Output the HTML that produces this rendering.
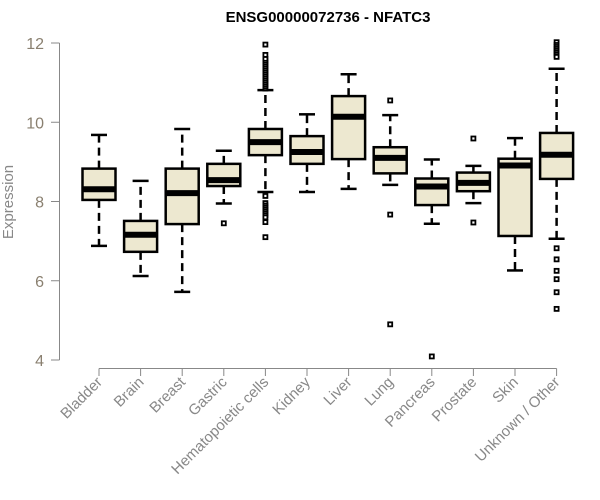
<!DOCTYPE html>
<html><head><meta charset="utf-8"><style>body{margin:0;background:#fff}svg{display:block}</style></head>
<body>
<svg id="chart" width="600" height="500" xmlns="http://www.w3.org/2000/svg" font-family="Liberation Sans, sans-serif">
<text x="328" y="22" text-anchor="middle" font-weight="bold" font-size="15">ENSG00000072736 - NFATC3</text>
<text transform="translate(13,202) rotate(-90)" text-anchor="middle" font-size="15" fill="#888">Expression</text>
<g id="axes"></g><g id="boxes"></g>
</svg>
<script>
const categories=["Bladder","Brain","Breast","Gastric","Hematopoietic cells","Kidney","Liver","Lung","Pancreas","Prostate","Skin","Unknown / Other"];
const whiskerLow=[6.88,6.12,5.72,7.95,8.24,8.24,8.32,8.42,7.44,7.96,6.26,7.06];
const q1=[8.04,6.73,7.43,8.39,9.17,8.95,9.07,8.71,7.91,8.26,7.13,8.57];
const median=[8.31,7.16,8.21,8.54,9.50,9.25,10.14,9.10,8.38,8.47,8.91,9.18];
const q3=[8.83,7.51,8.83,8.95,9.83,9.65,10.66,9.37,8.58,8.73,9.08,9.73];
const whiskerHigh=[9.68,8.52,9.83,9.28,10.81,10.20,11.21,10.18,9.06,8.90,9.60,11.35];
const outliers=[[],[],[],[7.45],
[10.85,10.9,10.95,11.0,11.05,11.1,11.15,11.2,11.25,11.3,11.35,11.4,11.45,11.5,11.55,11.6,11.7,11.96,8.14,7.96,7.9,7.85,7.8,7.75,7.7,7.65,7.6,7.48,7.10],
[],[],[10.55,7.67,4.9],[4.09],[9.59,7.47],[],
[12.02,11.95,11.9,11.85,11.8,11.75,11.7,11.65,6.82,6.54,6.25,6.04,5.71,5.29]];
const yTicks=[4,6,8,10,12];
const NS="http://www.w3.org/2000/svg";
const y=v=>360-(v-4)*39.625;
const x=i=>99+i*41.6;
function mk(t,a,p){const e=document.createElementNS(NS,t);for(const k in a)e.setAttribute(k,a[k]);p.appendChild(e);return e;}
const ax=document.getElementById('axes'),bx=document.getElementById('boxes');
const yl=mk('line',{x1:59.5,x2:59.5,y1:y(12),y2:y(4),stroke:'#888','stroke-width':1},ax);


yTicks.forEach(t=>{
 const l=mk('line',{x1:51,x2:59.5,y1:y(t),y2:y(t),stroke:'#888'},ax);
 
 
 const tx=mk('text',{x:44,y:y(t)+6,'text-anchor':'end','font-size':16,fill:'#8a8070'},ax);tx.textContent=t;
 
 
});
const xl=mk('line',{x1:x(0),x2:x(11),y1:368.5,y2:368.5,stroke:'#888'},ax);


categories.forEach((c,i)=>{
 const cx=x(i);
 const tk=mk('line',{x1:cx,x2:cx,y1:368.5,y2:376,stroke:'#888'},ax);
 
 
 const tl=mk('text',{transform:`translate(${cx+4},${383}) rotate(-45)`,'text-anchor':'end','font-size':15,fill:'#888'},ax);tl.textContent=c;
 
 
 const g=mk('g',{},bx);
 
 
 const ds={stroke:'#000','stroke-width':2.5,'stroke-dasharray':'8,5'};
 mk('line',Object.assign({x1:cx,x2:cx,y1:y(q3[i]),y2:y(whiskerHigh[i])},ds),g);
 mk('line',Object.assign({x1:cx,x2:cx,y1:y(q1[i]),y2:y(whiskerLow[i])},ds),g);
 mk('line',{x1:cx-8,x2:cx+8,y1:y(whiskerHigh[i]),y2:y(whiskerHigh[i]),stroke:'#000','stroke-width':2.5},g);
 mk('line',{x1:cx-8,x2:cx+8,y1:y(whiskerLow[i]),y2:y(whiskerLow[i]),stroke:'#000','stroke-width':2.5},g);
 mk('rect',{x:cx-16.5,y:y(q3[i]),width:33,height:y(q1[i])-y(q3[i]),fill:'#ede8d0',stroke:'#000','stroke-width':2.5},g);
 mk('line',{x1:cx-16.5,x2:cx+16.5,y1:y(median[i]),y2:y(median[i]),stroke:'#000','stroke-width':6},g);
 outliers[i].forEach(o=>{mk('rect',{x:cx-2,y:y(o)-2,width:4,height:4,fill:'#fff',stroke:'#000','stroke-width':1.8},g);});
});
</script>
</body></html>
